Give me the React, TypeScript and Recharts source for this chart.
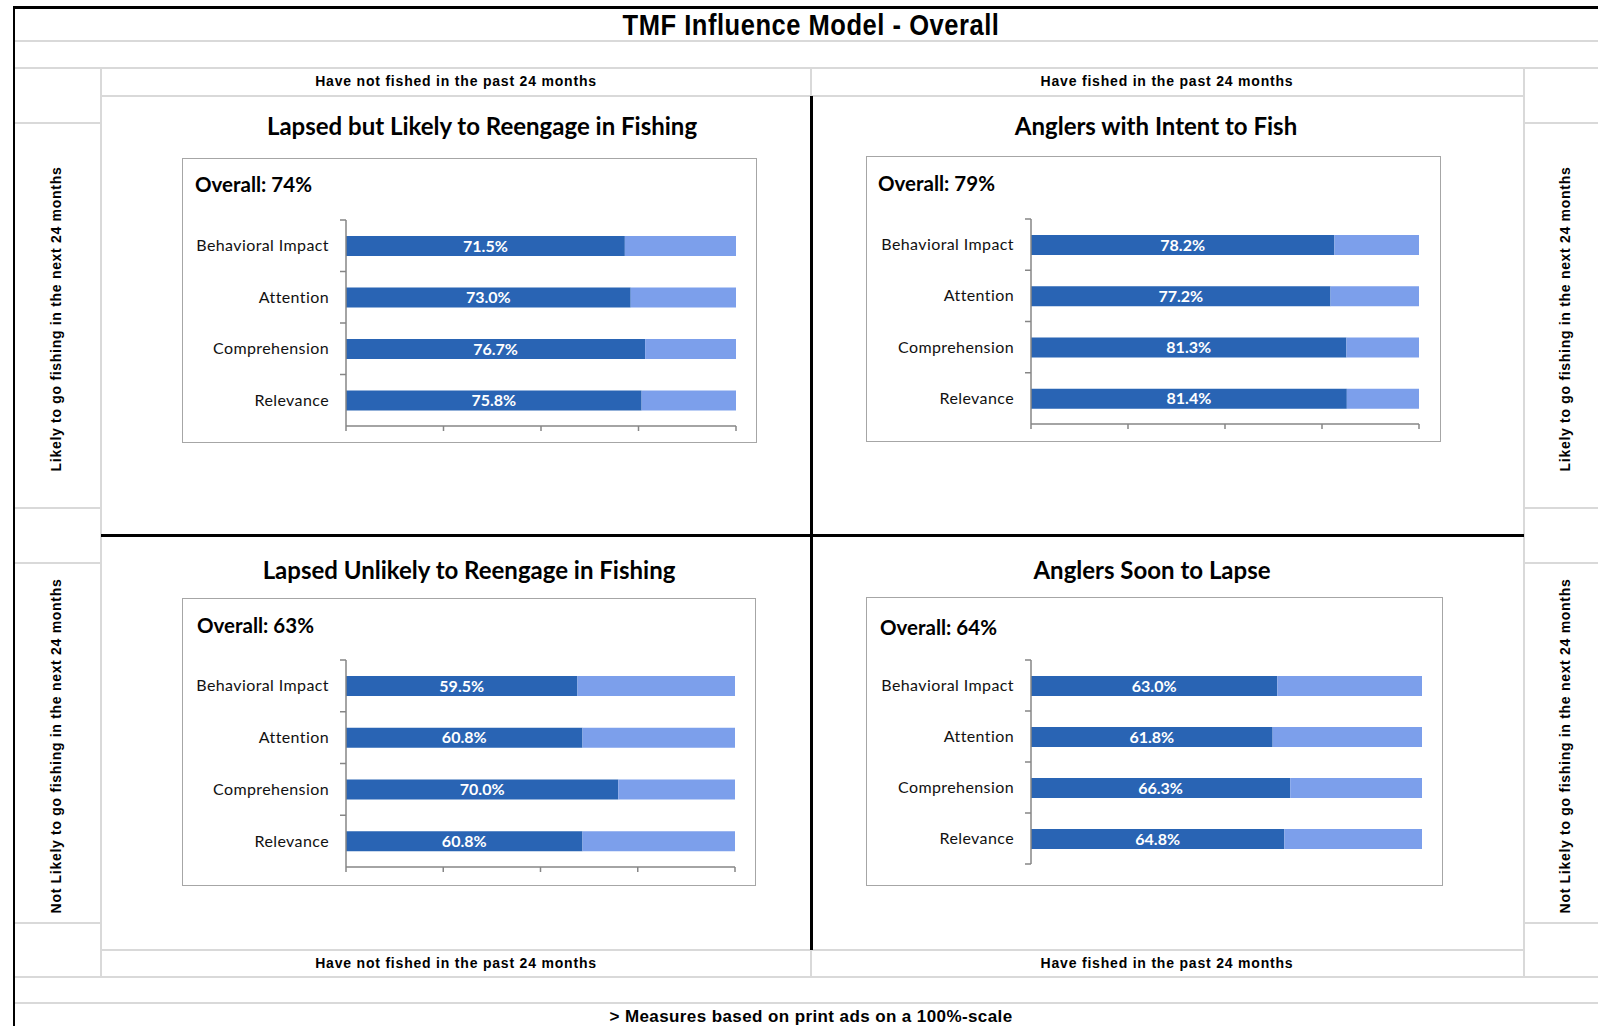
import React from 'react';
import { BarChart, Bar, XAxis, YAxis, LabelList } from 'recharts';

// chart values
const CATEGORIES = ['Behavioral Impact', 'Attention', 'Comprehension', 'Relevance'];
const LAPSED_LIKELY = [71.5, 73.0, 76.7, 75.8];
const INTENT_TO_FISH = [78.2, 77.2, 81.3, 81.4];
const LAPSED_UNLIKELY = [59.5, 60.8, 70.0, 60.8];
const SOON_TO_LAPSE = [63.0, 61.8, 66.3, 64.8];
const OVERALL = [74, 79, 63, 64];
const PANEL_TITLES = [
  'Lapsed but Likely to Reengage in Fishing',
  'Anglers with Intent to Fish',
  'Lapsed Unlikely to Reengage in Fishing',
  'Anglers Soon to Lapse',
];
const X_TICKS = [0, 25, 50, 75, 100];
const COL_HEADERS = ['Have not fished in the past 24 months', 'Have fished in the past 24 months'];
const ROW_HEADERS = ['Likely to go fishing in the next 24 months', 'Not Likely to go fishing in the next 24 months'];

const DARK = '#2964B4';
const LIGHT = '#7C9FEB';
const AXIS = '#868686';
const GRID = '#D9D9D9';
const ARIAL = '"Liberation Sans", Arial, sans-serif';
const CALIBRI = 'Lato, "Open Sans", sans-serif';
const X_AXIS_H = 8;

const toRows = (values: number[]) =>
  CATEGORIES.map((name, i) => ({ name, value: values[i], rest: +(100 - values[i]).toFixed(1) }));

// layout of the four quadrant charts
const PANELS = [
  { values: LAPSED_LIKELY, box: { x: 182, y: 158, w: 575, h: 285 }, plot: { l: 346, t: 220, r: 736, b: 426 }, title: { cx: 482, cy: 126 }, overall: { x: 195, cy: 184 }, showX: true },
  { values: INTENT_TO_FISH, box: { x: 866, y: 156, w: 575, h: 286 }, plot: { l: 1031, t: 219, r: 1419, b: 424 }, title: { cx: 1156, cy: 126 }, overall: { x: 878, cy: 183 }, showX: true },
  { values: LAPSED_UNLIKELY, box: { x: 182, y: 598, w: 574, h: 288 }, plot: { l: 346, t: 660, r: 735, b: 867 }, title: { cx: 469, cy: 570 }, overall: { x: 197, cy: 625 }, showX: true },
  { values: SOON_TO_LAPSE, box: { x: 866, y: 597, w: 577, h: 289 }, plot: { l: 1031, t: 660, r: 1422, b: 864 }, title: { cx: 1152, cy: 570 }, overall: { x: 880, cy: 627 }, showX: false },
];

const hLine = (x1: number, x2: number, y: number, color = GRID, w = 2) => (
  <div style={{ position: 'absolute', left: x1, top: y - w / 2, width: x2 - x1, height: w, background: color }} />
);
const vLine = (x: number, y1: number, y2: number, color = GRID, w = 2) => (
  <div style={{ position: 'absolute', left: x - w / 2, top: y1, width: w, height: y2 - y1, background: color }} />
);

const Centered = ({ cx, cy, style, scaleX = 1, children }: any) => (
  <div style={{ position: 'absolute', left: cx, top: cy, transform: `translate(-50%, -50%) scaleX(${scaleX})`, whiteSpace: 'nowrap', lineHeight: 1, ...style }}>
    {children}
  </div>
);

const Vertical = ({ cx, cy, children }: any) => (
  <div style={{ position: 'absolute', left: cx, top: cy, transform: 'translate(-50%, -50%) rotate(-90deg)', whiteSpace: 'nowrap', lineHeight: 1, fontFamily: ARIAL, fontWeight: 700, fontSize: 14, letterSpacing: 0.7 }}>
    {children}
  </div>
);

const Panel = ({ idx }: { idx: number }) => {
  const p = PANELS[idx];
  const rows = toRows(p.values);
  const bandHalf = (p.plot.b - p.plot.t) / (CATEGORIES.length * 2);
  const yAxisW = p.plot.l - p.box.x;

  // category label plus Excel-style tick marks between categories
  const CatTick = (props: any) => {
    const { x, y, payload, index } = props;
    const axisX = x + 17;
    const half = payload && payload.offset ? payload.offset : bandHalf;
    return (
      <g>
        <line x1={axisX - 6} x2={axisX} y1={y - half} y2={y - half} stroke={AXIS} strokeWidth={1.5} />
        {index === CATEGORIES.length - 1 && !p.showX && (
          <line x1={axisX - 6} x2={axisX} y1={y + half} y2={y + half} stroke={AXIS} strokeWidth={1.5} />
        )}
        <text x={x} y={y} dy={5.5} textAnchor="end" fontFamily={CALIBRI} fontSize={16} letterSpacing={0.4} fill="#111">
          {payload.value}
        </text>
      </g>
    );
  };

  return (
    <>
      <Centered cx={p.title.cx} cy={p.title.cy} style={{ fontFamily: CALIBRI, fontWeight: 700, fontSize: 24 }}>
        {PANEL_TITLES[idx]}
      </Centered>
      <div style={{ position: 'absolute', left: p.box.x, top: p.box.y, width: p.box.w, height: p.box.h, border: '1.5px solid #A6A6A6', boxSizing: 'border-box' }} />
      <div style={{ position: 'absolute', left: p.overall.x, top: p.overall.cy, transform: 'translateY(-50%)', lineHeight: 1, fontFamily: CALIBRI, fontWeight: 700, fontSize: 20.5, whiteSpace: 'nowrap' }}>
        Overall: {OVERALL[idx]}%
      </div>
      <div style={{ position: 'absolute', left: p.box.x, top: p.box.y }}>
        <BarChart
          width={p.box.w}
          height={p.box.h}
          data={rows}
          layout="vertical"
          barSize={20}
          margin={{
            top: p.plot.t - p.box.y,
            right: p.box.x + p.box.w - p.plot.r,
            bottom: p.box.y + p.box.h - p.plot.b - (p.showX ? X_AXIS_H : 0),
            left: 0,
          }}
        >
          <XAxis
            type="number"
            domain={[0, 100]}
            ticks={X_TICKS}
            hide={!p.showX}
            height={X_AXIS_H}
            tickSize={5}
            tickFormatter={() => ''}
            axisLine={{ stroke: AXIS, strokeWidth: 1.5 }}
            tickLine={{ stroke: AXIS, strokeWidth: 1.5 }}
          />
          <YAxis
            type="category"
            dataKey="name"
            width={yAxisW}
            interval={0}
            tickSize={6}
            tickMargin={11}
            tickLine={false}
            axisLine={{ stroke: AXIS, strokeWidth: 1.5 }}
            tick={<CatTick />}
          />
          <Bar dataKey="value" stackId="s" fill={DARK} isAnimationActive={false}>
            <LabelList
              dataKey="value"
              position="center"
              fill="#fff"
              fontFamily={CALIBRI}
              fontWeight={700}
              fontSize={16}
              formatter={(v: any) => `${Number(v).toFixed(1)}%`}
            />
          </Bar>
          <Bar dataKey="rest" stackId="s" fill={LIGHT} isAnimationActive={false} />
        </BarChart>
      </div>
    </>
  );
};

export default function App() {
  return (
    <div style={{ position: 'relative', width: 1598, height: 1026, overflow: 'hidden', background: '#fff', color: '#000' }}>
      <style>{'body{margin:0}'}</style>

      {/* grid of the worksheet */}
      {hLine(14, 1598, 41)}
      {hLine(14, 1598, 68)}
      {hLine(101, 1524, 96)}
      {vLine(811, 68, 96)}
      {vLine(101, 68, 977)}
      {vLine(1524, 68, 977)}
      {[123, 508, 563, 923].map((y) => (
        <React.Fragment key={y}>
          {hLine(14, 101, y)}
          {hLine(1524, 1598, y)}
        </React.Fragment>
      ))}
      {hLine(101, 1524, 950)}
      {vLine(811, 950, 977)}
      {hLine(14, 1598, 977)}
      {hLine(14, 1598, 1003)}

      {/* outer border and quadrant cross */}
      {hLine(13, 1598, 7.5, '#000', 2.5)}
      {vLine(14, 7, 1026, '#000', 2.5)}
      {vLine(811, 96, 950, '#000', 3)}
      {hLine(101, 1524, 535, '#000', 3)}

      <Centered cx={811} cy={25} scaleX={0.88} style={{ fontFamily: ARIAL, fontWeight: 700, fontSize: 29, letterSpacing: 0.6 }}>
        TMF Influence Model - Overall
      </Centered>

      {COL_HEADERS.map((t, i) => (
        <React.Fragment key={t}>
          <Centered cx={i === 0 ? 456 : 1167} cy={81} style={{ fontFamily: ARIAL, fontWeight: 700, fontSize: 14, letterSpacing: 0.8 }}>{t}</Centered>
          <Centered cx={i === 0 ? 456 : 1167} cy={963} style={{ fontFamily: ARIAL, fontWeight: 700, fontSize: 14, letterSpacing: 0.8 }}>{t}</Centered>
        </React.Fragment>
      ))}

      <Vertical cx={56} cy={319}>{ROW_HEADERS[0]}</Vertical>
      <Vertical cx={56} cy={746}>{ROW_HEADERS[1]}</Vertical>
      <Vertical cx={1565} cy={319}>{ROW_HEADERS[0]}</Vertical>
      <Vertical cx={1565} cy={746}>{ROW_HEADERS[1]}</Vertical>

      {PANELS.map((_, i) => (
        <Panel key={i} idx={i} />
      ))}

      <Centered cx={811} cy={1016} style={{ fontFamily: ARIAL, fontWeight: 700, fontSize: 17, letterSpacing: 0.4 }}>
        {'> Measures based on print ads on a 100%-scale'}
      </Centered>
    </div>
  );
}
